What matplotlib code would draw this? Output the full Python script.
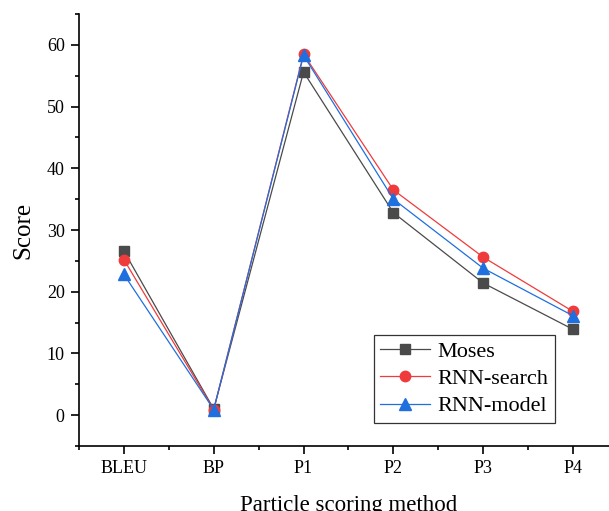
import numpy as np
import matplotlib.pyplot as plt
from matplotlib.ticker import MultipleLocator

plt.rcParams['font.family'] = ['Liberation Serif', 'DejaVu Serif']

methods = ["BLEU", "BP", "P1", "P2", "P3", "P4"]
moses = [26.6, 1.0, 55.6, 32.8, 21.4, 13.9]
rnn_search = [25.2, 0.9, 58.5, 36.5, 25.6, 16.8]
rnn_model = [22.8, 0.9, 58.3, 35.0, 23.8, 16.1]

x = np.arange(len(methods))

fig = plt.figure(figsize=(6.09, 5.11), dpi=100)
ax = fig.add_axes([0.1297, 0.1272, 0.885, 0.8454])

ax.plot(x, moses, color="#4a4a4a", lw=0.9, marker="s", ms=6.5, label="Moses")
ax.plot(x, rnn_search, color="#ef3b3b", lw=0.9, marker="o", ms=7.5, label="RNN-search")
ax.plot(x, rnn_model, color="#1f6fdf", lw=0.9, marker="^", ms=8, label="RNN-model")

ax.set_xlim(-0.5, 5.5)
ax.set_ylim(-5, 65)
ax.set_xticks(x)
ax.set_xticklabels(methods)
ax.xaxis.set_minor_locator(MultipleLocator(0.5))
ax.yaxis.set_major_locator(MultipleLocator(10))
ax.yaxis.set_minor_locator(MultipleLocator(5))

for side in ("top", "right"):
    ax.spines[side].set_visible(False)
for side in ("left", "bottom"):
    ax.spines[side].set_linewidth(1.2)

ax.tick_params(which="major", direction="out", length=5.8, width=1.2, labelsize=13)
ax.tick_params(which="minor", direction="out", length=2.9, width=1.2)
ax.tick_params(axis="x", which="major", pad=4)
ax.tick_params(axis="y", which="major", pad=4.5)

ax.set_xlabel("Particle scoring method", fontsize=16.5, labelpad=13)
ax.set_ylabel("Score", fontsize=18, labelpad=9)

leg = ax.legend(loc="lower left", bbox_to_anchor=(0.547, 0.053), fontsize=16,
                frameon=True, fancybox=False, edgecolor="black",
                handlelength=2.25, handletextpad=0.3, borderpad=0.3,
                labelspacing=0.3, borderaxespad=0)
leg.get_frame().set_linewidth(0.9)

fig.savefig("out.png", dpi=100)
